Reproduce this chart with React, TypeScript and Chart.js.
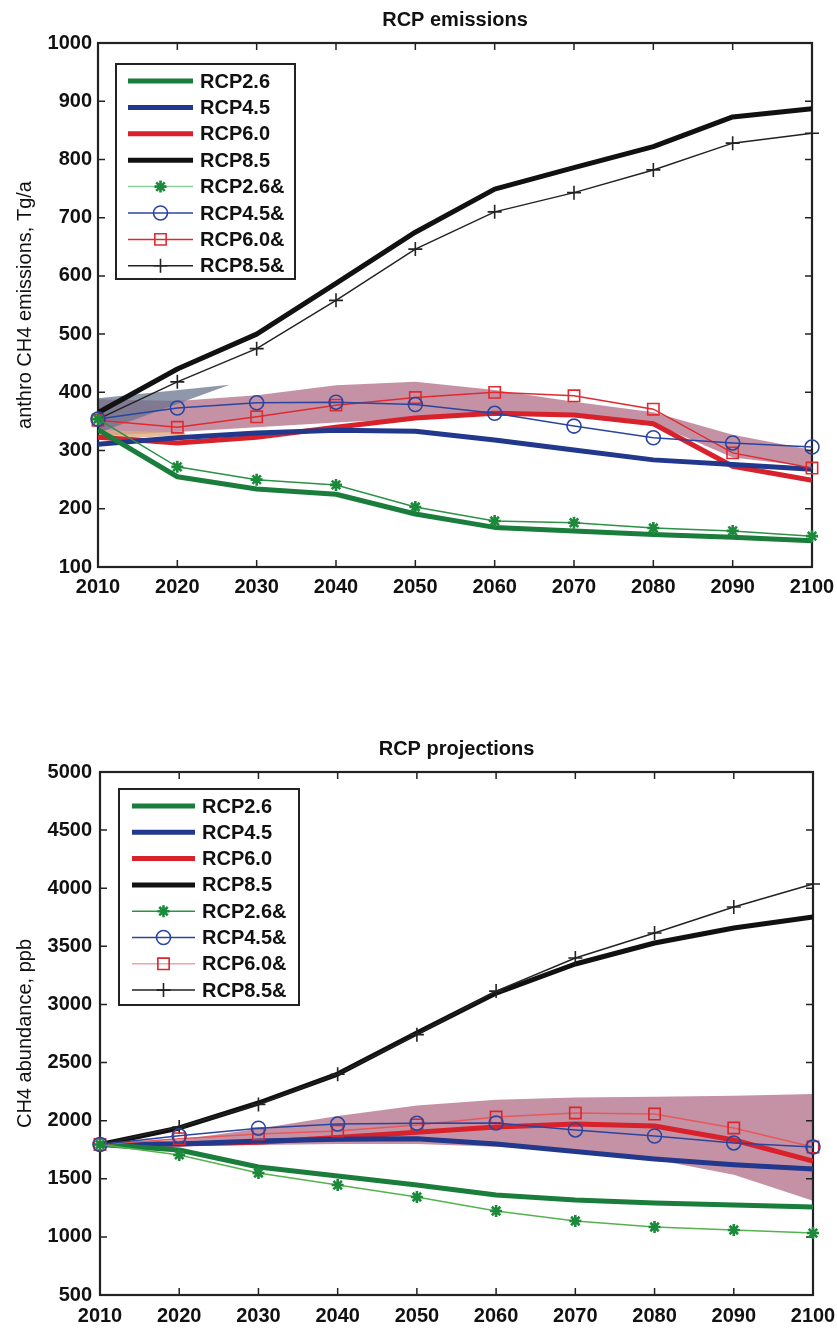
import React, { useEffect, useRef } from 'react';
import { Chart, registerables } from 'chart.js';

Chart.register(...registerables);

const FONT = 'Liberation Sans, Arial, Helvetica, sans-serif';
Chart.defaults.font.family = FONT;
Chart.defaults.color = '#111';

// ---------- data ----------
const years = [2010, 2020, 2030, 2040, 2050, 2060, 2070, 2080, 2090, 2100];

// anthropogenic CH4 emissions, Tg/a
const emis26 = [336, 255, 234, 225, 191, 168, 162, 156, 151, 145];
const emis45 = [311, 322, 330, 335, 333, 318, 301, 284, 276, 268];
const emis60 = [323, 313, 323, 340, 356, 364, 361, 346, 273, 249];
const emis85 = [365, 440, 500, 587, 675, 749, 786, 822, 873, 887];
const emis26a = [354, 272, 250, 241, 203, 179, 176, 167, 162, 153];
const emis45a = [354, 373, 382, 383, 379, 364, 342, 322, 313, 306];
const emis60a = [352, 340, 358, 378, 391, 400, 394, 371, 296, 270];
const emis85a = [354, 418, 475, 558, 646, 710, 743, 782, 828, 845];
const emisBandHi = [388, 385, 395, 412, 418, 404, 384, 366, 327, 301];
const emisBandLo = [325, 332, 340, 348, 355, 362, 362, 347, 288, 272];
const wedgeYears = [2010, 2026.6];
const wedgeHi = [390, 413];
const wedgeLo = [330, 413];
const peachYears = [2010, 2021];
const peachHi = [335, 331];
const peachLo = [318, 327];

// CH4 abundance, ppb
const abund26 = [1795, 1748, 1601, 1524, 1446, 1360, 1317, 1291, 1274, 1257];
const abund45 = [1795, 1800, 1825, 1840, 1845, 1800, 1735, 1670, 1620, 1585];
const abund60 = [1795, 1800, 1815, 1855, 1900, 1946, 1971, 1954, 1834, 1653];
const abund85 = [1795, 1937, 2152, 2401, 2754, 3098, 3348, 3529, 3658, 3752];
const abund26a = [1795, 1705, 1550, 1446, 1343, 1223, 1137, 1085, 1059, 1033];
const abund45a = [1795, 1870, 1935, 1971, 1978, 1980, 1920, 1868, 1808, 1773];
const abund60a = [1795, 1845, 1885, 1911, 1963, 2031, 2066, 2057, 1937, 1773];
const abund85a = [1795, 1945, 2140, 2400, 2740, 3115, 3400, 3615, 3838, 4036];
const abundBandHi = [1795, 1835, 1930, 2040, 2130, 2180, 2200, 2205, 2215, 2230];
const abundBandLo = [1795, 1780, 1790, 1800, 1800, 1775, 1745, 1665, 1535, 1310];

const emisAxis = { min: 100, max: 1000, step: 100 };
const abundAxis = { min: 500, max: 5000, step: 500 };
const yearAxis = { min: 2010, max: 2100, step: 10 };

// ---------- styles ----------
const GREEN = '#1b7d3b';
const BLUE = '#22388c';
const RED = '#d8212a';
const BLACK = '#111111';
const BAND = 'rgba(180,115,138,0.78)';

const pts = (xs: number[], ys: number[]) => xs.map((x, i) => ({ x, y: ys[i] }));

function thick(label: string, ys: number[], color: string) {
  return {
    label,
    data: pts(years, ys),
    borderColor: color,
    backgroundColor: color,
    borderWidth: 5,
    pointRadius: 0,
    order: 2,
    borderJoinStyle: 'round',
    legendInfo: { color, width: 5 },
  };
}

function thin(label: string, ys: number[], color: string, style: string, markColor: string, legendColor: string, radius: number) {
  const mw = style === 'star' ? 2.6 : 1.6;
  return {
    label,
    data: pts(years, ys),
    borderColor: color,
    borderWidth: 1.5,
    pointStyle: style,
    pointRadius: radius,
    pointBorderColor: markColor,
    pointBackgroundColor: 'rgba(0,0,0,0)',
    pointBorderWidth: mw,
    order: 1,
    clip: false,
    legendInfo: { color: legendColor, width: 1.5, style, markColor, radius, mw },
  };
}

function band(xs: number[], hi: number[], lo: number[], color: string, order: number) {
  return [
    { label: '', data: pts(xs, hi), fill: '+1', backgroundColor: color, borderColor: 'rgba(0,0,0,0)', borderWidth: 0, pointRadius: 0, order },
    { label: '', data: pts(xs, lo), fill: false, borderColor: 'rgba(0,0,0,0)', borderWidth: 0, pointRadius: 0, order },
  ];
}

function drawMarker(ctx: CanvasRenderingContext2D, style: string, x: number, y: number, r: number, color: string, lw: number) {
  ctx.save();
  ctx.strokeStyle = color;
  ctx.lineWidth = lw;
  ctx.beginPath();
  if (style === 'circle') {
    ctx.arc(x, y, r, 0, Math.PI * 2);
  } else if (style === 'rect') {
    const s = r * Math.SQRT1_2;
    ctx.rect(x - s, y - s, 2 * s, 2 * s);
  } else if (style === 'cross') {
    ctx.moveTo(x - r, y); ctx.lineTo(x + r, y);
    ctx.moveTo(x, y - r); ctx.lineTo(x, y + r);
  } else if (style === 'star') {
    const d = r * Math.SQRT1_2;
    ctx.moveTo(x - r, y); ctx.lineTo(x + r, y);
    ctx.moveTo(x, y - r); ctx.lineTo(x, y + r);
    ctx.moveTo(x - d, y - d); ctx.lineTo(x + d, y + d);
    ctx.moveTo(x - d, y + d); ctx.lineTo(x + d, y - d);
  }
  ctx.stroke();
  ctx.restore();
}

const framePlugin = {
  id: 'matlabFrame',
  beforeDatasetsDraw(chart: any) {
    const { ctx, chartArea: a, scales } = chart;
    const xs = scales.x;
    const ys = scales.y;
    const L = 7;
    ctx.save();
    ctx.strokeStyle = '#222';
    ctx.lineWidth = 1.5;
    ctx.beginPath();
    xs.ticks.forEach((t: any) => {
      const px = xs.getPixelForValue(t.value);
      ctx.moveTo(px, a.bottom); ctx.lineTo(px, a.bottom - L);
      ctx.moveTo(px, a.top); ctx.lineTo(px, a.top + L);
    });
    ys.ticks.forEach((t: any) => {
      const py = ys.getPixelForValue(t.value);
      ctx.moveTo(a.left, py); ctx.lineTo(a.left + L, py);
      ctx.moveTo(a.right, py); ctx.lineTo(a.right - L, py);
    });
    ctx.stroke();
    ctx.lineWidth = 2.2;
    ctx.strokeRect(a.left, a.top, a.right - a.left, a.bottom - a.top);
    ctx.restore();
  },
};

function makeLegendPlugin(box: { dx: number; dy: number; w: number; h: number; first: number; step: number; lx0: number; lx1: number; tx: number }) {
  return {
    id: 'boxLegend',
    afterDatasetsDraw(chart: any) {
      const { ctx, chartArea: a } = chart;
      const x0 = a.left + box.dx;
      const y0 = a.top + box.dy;
      ctx.save();
      ctx.fillStyle = '#fff';
      ctx.fillRect(x0, y0, box.w, box.h);
      ctx.lineWidth = 2;
      ctx.strokeStyle = '#222';
      ctx.strokeRect(x0, y0, box.w, box.h);
      const items = chart.data.datasets.filter((d: any) => d.legendInfo);
      items.forEach((d: any, i: number) => {
        const li = d.legendInfo;
        const y = y0 + box.first + i * box.step;
        ctx.beginPath();
        ctx.strokeStyle = li.color;
        ctx.lineWidth = li.width;
        ctx.moveTo(x0 + box.lx0, y);
        ctx.lineTo(x0 + box.lx1, y);
        ctx.stroke();
        if (li.style) {
          drawMarker(ctx, li.style, x0 + (box.lx0 + box.lx1) / 2, y, li.radius, li.markColor, li.mw);
        }
        ctx.fillStyle = '#111';
        ctx.font = `bold 20px ${FONT}`;
        ctx.textBaseline = 'middle';
        ctx.textAlign = 'left';
        ctx.fillText(d.label, x0 + box.tx, y + 1);
      });
      ctx.restore();
    },
  };
}

function makeConfig(p: any) {
  return {
    type: 'line',
    data: { datasets: p.datasets },
    options: {
      responsive: false,
      animation: false,
      devicePixelRatio: 1,
      layout: { padding: p.padding },
      plugins: {
        legend: { display: false },
        tooltip: { enabled: false },
        filler: { propagate: false, drawTime: 'beforeDatasetsDraw' },
        title: {
          display: true,
          text: p.title,
          fullSize: false,
          color: '#111',
          font: { size: 20, weight: 'bold', family: FONT },
          padding: { top: 8, bottom: 11 },
        },
      },
      scales: {
        x: {
          type: 'linear',
          min: yearAxis.min,
          max: yearAxis.max,
          grid: { display: false, drawTicks: false },
          border: { display: false },
          ticks: {
            stepSize: yearAxis.step,
            autoSkip: false,
            maxRotation: 0,
            padding: p.xPad,
            color: '#111',
            font: { size: 20, weight: 'bold', family: FONT },
            callback: (v: any) => String(v),
          },
          afterFit: (s: any) => {
            s.height = p.xHeight;
            s.paddingLeft = 0;
            s.paddingRight = 0;
          },
        },
        y: {
          type: 'linear',
          min: p.yAxis.min,
          max: p.yAxis.max,
          grid: { display: false, drawTicks: false },
          border: { display: false },
          ticks: {
            stepSize: p.yAxis.step,
            padding: p.yPad,
            color: '#111',
            font: { size: 20, weight: 'bold', family: FONT },
            callback: (v: any) => String(v),
          },
          title: {
            display: true,
            text: p.yTitle,
            color: '#111',
            font: { size: 20, weight: 'normal', family: FONT },
            padding: { top: 13, bottom: 0 },
          },
          afterFit: (s: any) => { s.width = p.yWidth; },
        },
      },
    },
    plugins: [framePlugin, makeLegendPlugin(p.legendBox)],
  };
}

function makeTop() {
  const datasets = [
    thick('RCP2.6', emis26, GREEN),
    thick('RCP4.5', emis45, BLUE),
    thick('RCP6.0', emis60, RED),
    thick('RCP8.5', emis85, BLACK),
    thin('RCP2.6&', emis26a, '#2c9046', 'star', '#1b8a3a', '#8ad09a', 6),
    thin('RCP4.5&', emis45a, '#2a45a0', 'circle', '#2a45a0', '#2a45a0', 7),
    thin('RCP6.0&', emis60a, '#e02a30', 'rect', '#e02a30', '#e02a30', 8),
    thin('RCP8.5&', emis85a, '#222', 'cross', '#222', '#222', 7),
    ...band(years, emisBandHi, emisBandLo, BAND, 8),
    ...band(wedgeYears, wedgeHi, wedgeLo, 'rgba(100,112,138,0.72)', 7),
    ...band(peachYears, peachHi, peachLo, 'rgba(222,170,130,0.8)', 6),
  ];
  return makeConfig({
    datasets,
    title: 'RCP emissions',
    yTitle: 'anthro CH4 emissions, Tg/a',
    yAxis: emisAxis,
    padding: { top: 0, left: 0, right: 25, bottom: 0 },
    xHeight: 98,
    yWidth: 98,
    xPad: 8,
    yPad: 6,
    legendBox: { dx: 18, dy: 21, w: 179, h: 215, first: 17, step: 26.4, lx0: 12, lx1: 77, tx: 84 },
  });
}

function makeBottom() {
  const datasets = [
    thick('RCP2.6', abund26, GREEN),
    thick('RCP4.5', abund45, BLUE),
    thick('RCP6.0', abund60, RED),
    thick('RCP8.5', abund85, BLACK),
    thin('RCP2.6&', abund26a, '#55b24e', 'star', '#1b8a3a', '#2a9446', 6),
    thin('RCP4.5&', abund45a, '#2a45a0', 'circle', '#2a45a0', '#2a45a0', 7),
    thin('RCP6.0&', abund60a, '#e8585a', 'rect', '#d8262c', '#f2a2a4', 8),
    thin('RCP8.5&', abund85a, '#222', 'cross', '#222', '#222', 7),
    ...band(years, abundBandHi, abundBandLo, BAND, 8),
  ];
  return makeConfig({
    datasets,
    title: 'RCP projections',
    yTitle: 'CH4 abundance, ppb',
    yAxis: abundAxis,
    padding: { top: 64, left: 0, right: 24, bottom: 0 },
    xHeight: 34,
    yWidth: 100,
    xPad: 9,
    yPad: 8,
    legendBox: { dx: 19, dy: 17, w: 180, h: 216, first: 17, step: 26.3, lx0: 13, lx1: 76, tx: 83 },
  });
}

function ChartCanvas({ make, width, height, top }: { make: () => any; width: number; height: number; top: number }) {
  const ref = useRef<HTMLCanvasElement>(null);
  useEffect(() => {
    const chart = new Chart(ref.current as HTMLCanvasElement, make());
    return () => chart.destroy();
  }, [make]);
  return (
    <canvas
      ref={ref}
      width={width}
      height={height}
      style={{ position: 'absolute', left: 0, top, width, height, display: 'block' }}
    />
  );
}

export default function App() {
  return (
    <div style={{ position: 'absolute', left: 0, top: 0, width: 837, height: 1329, background: '#fff' }}>
      <ChartCanvas make={makeTop} width={837} height={665} top={0} />
      <ChartCanvas make={makeBottom} width={837} height={664} top={665} />
    </div>
  );
}
